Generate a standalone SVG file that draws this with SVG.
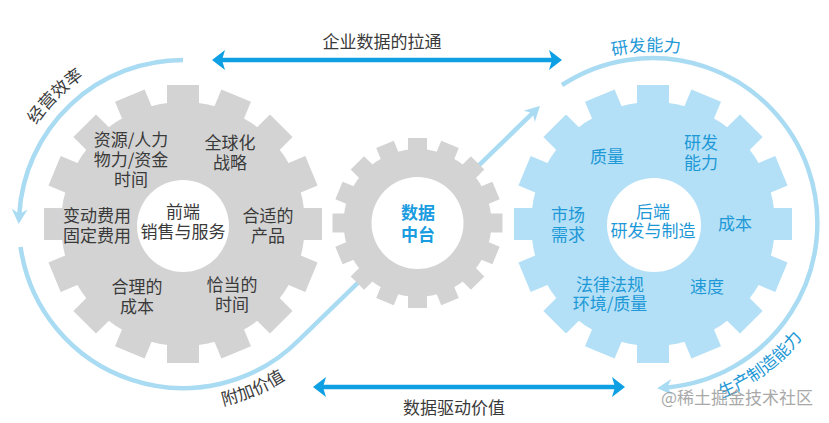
<svg xmlns="http://www.w3.org/2000/svg" xmlns:xlink="http://www.w3.org/1999/xlink" width="829" height="423" viewBox="0 0 829 423">
<style>
.t{font-family:'Noto Sans CJK SC','Noto Sans',sans-serif;font-size:17px;text-anchor:middle}
.dk{fill:#3a3a3a}
.bl{fill:#1e98d6}
.mid{fill:#1a9ce0;font-weight:bold}
.loop{fill:none;stroke:#a9dbf3;stroke-width:4.5}
.dbl{fill:none;stroke:#0fa0e4;stroke-width:4.5}
.hole{fill:#ffffff}
</style>
<defs>
<marker id="lbHead" markerUnits="userSpaceOnUse" markerWidth="30" markerHeight="30" refX="1" refY="0" orient="auto" overflow="visible">
<path d="M -4,-8 L 11,0 L -4,8 L 1,0 Z" fill="#a9dbf3"/>
</marker>
<marker id="bHead" markerUnits="userSpaceOnUse" markerWidth="30" markerHeight="30" refX="2" refY="0" orient="auto-start-reverse" overflow="visible">
<path d="M -1,-10 L 12,0 L -1,10 L 2,0 Z" fill="#0fa0e4"/>
</marker>
<rect id="bigTooth" x="108" y="-16" width="31" height="32"/>
<rect id="smallTooth" x="65" y="-9.5" width="20" height="19"/>
<g id="bigGear">
<circle r="122"/>
<use href="#bigTooth"/><use href="#bigTooth" transform="rotate(22.5)"/><use href="#bigTooth" transform="rotate(45)"/><use href="#bigTooth" transform="rotate(67.5)"/>
<use href="#bigTooth" transform="rotate(90)"/><use href="#bigTooth" transform="rotate(112.5)"/><use href="#bigTooth" transform="rotate(135)"/><use href="#bigTooth" transform="rotate(157.5)"/>
<use href="#bigTooth" transform="rotate(180)"/><use href="#bigTooth" transform="rotate(202.5)"/><use href="#bigTooth" transform="rotate(225)"/><use href="#bigTooth" transform="rotate(247.5)"/>
<use href="#bigTooth" transform="rotate(270)"/><use href="#bigTooth" transform="rotate(292.5)"/><use href="#bigTooth" transform="rotate(315)"/><use href="#bigTooth" transform="rotate(337.5)"/>
</g>
<g id="smallGear">
<circle r="74"/>
<use href="#smallTooth"/><use href="#smallTooth" transform="rotate(22.5)"/><use href="#smallTooth" transform="rotate(45)"/><use href="#smallTooth" transform="rotate(67.5)"/>
<use href="#smallTooth" transform="rotate(90)"/><use href="#smallTooth" transform="rotate(112.5)"/><use href="#smallTooth" transform="rotate(135)"/><use href="#smallTooth" transform="rotate(157.5)"/>
<use href="#smallTooth" transform="rotate(180)"/><use href="#smallTooth" transform="rotate(202.5)"/><use href="#smallTooth" transform="rotate(225)"/><use href="#smallTooth" transform="rotate(247.5)"/>
<use href="#smallTooth" transform="rotate(270)"/><use href="#smallTooth" transform="rotate(292.5)"/><use href="#smallTooth" transform="rotate(315)"/><use href="#smallTooth" transform="rotate(337.5)"/>
</g>
<path id="pEff" d="M 8.7 193.3 A 177 177 0 0 1 152.3 49.7"/>
<path id="pAdd" d="M 144.3 405.9 A 186 186 0 0 0 340.7 322.6"/>
<path id="pRnd" d="M 549.4 86 A 171 171 0 0 1 745.4 78.1"/>
<path id="pMfg" d="M 653 411 A 188 188 0 0 0 833.7 274.8"/>
</defs>

<g id="connectors">
<path class="loop" d="M 183 60 A 164 164 0 0 0 19.3 214" marker-end="url(#lbHead)"/>
<path class="loop" d="M 20.6 247 A 164 164 0 0 0 299 340 L 532.8 112.9" marker-end="url(#lbHead)"/>
<path class="loop" d="M 562 85 A 165 165 0 1 1 667.1 387.4" marker-end="url(#lbHead)"/>
<path class="dbl" d="M 222 60 L 552 60" marker-start="url(#bHead)" marker-end="url(#bHead)"/>
<path class="dbl" d="M 323 387 L 615 387" marker-start="url(#bHead)" marker-end="url(#bHead)"/>
<text class="t dk" x="382" y="48">企业数据的拉通</text>
<text class="t dk" x="454" y="414">数据驱动价值</text>
<text class="t dk"><textPath href="#pEff" startOffset="50%">经营效率</textPath></text>
<text class="t dk"><textPath href="#pAdd" startOffset="50%">附加价值</textPath></text>
<text class="t bl"><textPath href="#pRnd" startOffset="50%">研发能力</textPath></text>
<text class="t bl"><textPath href="#pMfg" startOffset="50%">生产制造能力</textPath></text>
</g>

<g id="gear-front">
<use href="#bigGear" transform="translate(183 224)" fill="#d3d3d3"/>
<circle class="hole" cx="183" cy="226" r="46"/>
<text class="t dk" x="183" y="218">前端</text>
<text class="t dk" x="183" y="238">销售与服务</text>
<text class="t dk" x="131" y="146">资源/人力</text>
<text class="t dk" x="131" y="166">物力/资金</text>
<text class="t dk" x="131" y="186">时间</text>
<text class="t dk" x="230" y="149">全球化</text>
<text class="t dk" x="230" y="169">战略</text>
<text class="t dk" x="97" y="222">变动费用</text>
<text class="t dk" x="97" y="242">固定费用</text>
<text class="t dk" x="268" y="222">合适的</text>
<text class="t dk" x="268" y="242">产品</text>
<text class="t dk" x="137" y="293">合理的</text>
<text class="t dk" x="137" y="313">成本</text>
<text class="t dk" x="232" y="291">恰当的</text>
<text class="t dk" x="232" y="311">时间</text>
</g>

<g id="gear-middle">
<use href="#smallGear" transform="translate(417.5 223)" fill="#d3d3d3"/>
<circle class="hole" cx="417.5" cy="223" r="46"/>
<text class="t mid" x="418" y="219">数据</text>
<text class="t mid" x="418" y="241">中台</text>
</g>

<g id="gear-back">
<use href="#bigGear" transform="translate(653 224)" fill="#b3e0f6"/>
<circle class="hole" cx="654" cy="225" r="47"/>
<text class="t bl" x="653" y="218">后端</text>
<text class="t bl" x="653" y="237">研发与制造</text>
<text class="t bl" x="607" y="163">质量</text>
<text class="t bl" x="701" y="149">研发</text>
<text class="t bl" x="701" y="169">能力</text>
<text class="t bl" x="568" y="221">市场</text>
<text class="t bl" x="568" y="241">需求</text>
<text class="t bl" x="735" y="230">成本</text>
<text class="t bl" x="610" y="291">法律法规</text>
<text class="t bl" x="610" y="310">环境/质量</text>
<text class="t bl" x="707" y="293">速度</text>
</g>

<text class="t" x="737" y="404" fill="#9a9a9a" opacity="0.85">@稀土掘金技术社区</text>
</svg>
